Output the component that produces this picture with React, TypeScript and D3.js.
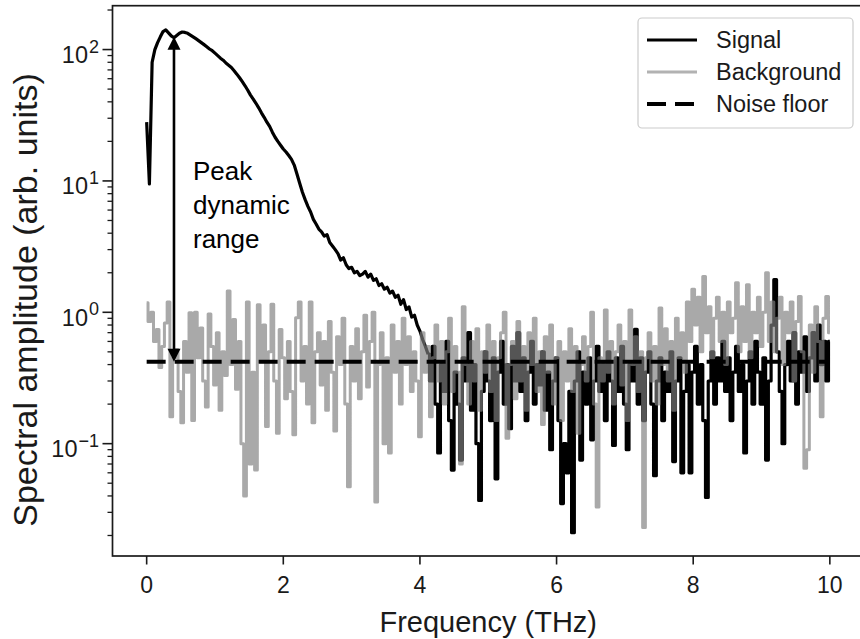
import React from "react";
import * as d3 from "d3";

// Uniformly sampled spectrum: frequency = FREQ_START + i * FREQ_STEP (THz)
const FREQ_START = 0;
const FREQ_STEP = 0.04;
// sample index where the signal sinks into the noise
const SIGNAL_NOISE_START = 103;

const SIGNAL = [
  28, 9.5, 80, 100, 113, 125, 137, 141, 134, 127,
  123, 128, 133, 136, 135, 133, 129, 125, 121, 117,
  113, 109, 105, 101, 98, 94, 90, 86, 83, 79,
  76, 73, 69, 65, 61, 57, 53, 49, 45, 42,
  39, 36, 33, 30.5, 28, 26, 23.5, 21.5, 20, 18.7,
  17.5, 16.6, 15.6, 14.6, 13.2, 11.3, 9.6, 8.2, 7.2, 6.4,
  5.8, 5.1, 4.7, 4.3, 4.1, 3.8, 3.9, 3.4, 3.2, 3.0,
  2.8, 2.5, 2.6, 2.3, 2.15, 2.2, 2.0, 2.05, 1.9, 1.95,
  2.05, 1.85, 1.95, 1.75, 1.8, 1.6, 1.65, 1.5, 1.55, 1.4,
  1.45, 1.3, 1.35, 1.15, 1.25, 1.05, 1.1, 0.92, 0.95, 0.8,
  0.72, 0.62, 0.55, 0.48, 0.3, 0.55, 0.2, 0.085, 0.4, 0.25,
  0.6, 0.15, 0.063, 0.35, 0.2, 0.075, 0.45, 0.3, 0.7, 0.18,
  0.4, 0.1, 0.037, 0.25, 0.5, 0.3, 0.15, 0.45, 0.054, 0.35,
  0.6, 0.2, 0.4, 0.13, 0.55, 0.3, 0.7, 0.25, 0.45, 0.15,
  0.35, 0.6, 0.2, 0.4, 0.28, 0.5, 0.18, 0.35, 0.09, 0.3,
  0.45, 0.15, 0.035, 0.1, 0.06, 0.25, 0.021, 0.3, 0.5, 0.075,
  0.35, 0.2, 0.45, 0.107, 0.3, 0.55, 0.25, 0.4, 0.15, 0.5,
  0.3, 0.097, 0.45, 0.25, 0.55, 0.2, 0.09, 0.4, 0.3, 0.74,
  0.2, 0.45, 0.15, 0.35, 0.5, 0.2, 0.057, 0.3, 0.45, 0.15,
  0.35, 0.25, 0.5, 0.073, 0.3, 0.45, 0.06, 0.25, 0.4, 0.06,
  0.35, 0.55, 0.2, 0.4, 0.15, 0.039, 0.3, 0.5, 0.2, 0.45,
  0.3, 0.6, 0.25, 0.45, 0.15, 0.35, 0.55, 0.25, 0.4, 0.085,
  0.3, 0.5, 0.2, 0.6, 0.35, 0.2, 0.45, 0.075, 0.3, 0.8,
  1.77, 0.5, 0.25, 0.1, 0.4, 0.6, 0.3, 0.7, 0.2, 0.5,
  0.35, 0.65, 0.25, 0.45, 0.7, 0.3, 0.8, 0.4, 0.6, 0.3,
  0.6,
];

const BACKGROUND = [
  1.18, 0.85, 1.0, 0.6, 0.74, 0.38, 0.55, 0.83, 1.2, 0.16,
  0.45, 0.52, 0.25, 0.144, 0.6, 0.35, 0.99, 0.15, 1.0, 0.45,
  0.76, 0.3, 0.19, 0.97, 0.55, 0.28, 0.7, 0.18, 0.5, 0.33,
  1.45, 0.4, 0.88, 0.26, 0.6, 0.1, 0.04, 1.2, 0.07, 0.35,
  0.063, 1.14, 0.42, 0.8, 0.135, 0.5, 1.15, 0.3, 0.12, 0.74,
  0.45, 0.22, 0.6, 0.25, 0.117, 0.91, 1.2, 0.3, 0.55, 0.2,
  1.2, 0.144, 0.5, 0.7, 0.28, 0.6, 0.18, 0.85, 0.35, 0.125,
  0.65, 0.4, 0.9, 0.2, 0.047, 0.55, 0.3, 0.75, 0.22, 0.5,
  0.95, 0.27, 0.6, 1.0, 0.036, 0.4, 0.7, 0.1, 0.45, 0.085,
  0.8, 0.35, 0.6, 0.2, 0.9, 0.4, 0.65, 0.25, 0.5, 0.3,
  0.113, 0.7, 0.35, 0.55, 0.16, 0.45, 0.8, 0.3, 0.6, 0.2,
  0.5, 0.9, 0.25, 0.55, 0.35, 0.07, 1.1, 0.4, 0.2, 0.6,
  0.3, 0.75, 0.18, 0.5, 0.35, 0.8, 0.25, 0.6, 0.15, 0.45,
  0.7, 1.0, 0.11, 0.4, 0.6, 0.22, 0.85, 0.3, 0.55, 0.18,
  0.7, 0.4, 0.9, 0.25, 0.5, 0.14, 0.65, 0.35, 0.8, 0.2,
  0.45, 0.6, 0.15, 0.5, 0.3, 0.75, 0.25, 0.55, 0.12, 0.4,
  0.65, 0.3, 0.55, 1.0, 0.2, 0.033, 0.45, 0.3, 1.04, 0.35,
  0.6, 0.2, 0.5, 0.8, 0.28, 0.6, 0.15, 1.04, 0.4, 0.65,
  0.25, 0.5, 0.023, 0.45, 0.7, 0.3, 0.55, 0.2, 1.08, 0.4,
  0.75, 0.3, 0.6, 0.18, 0.9, 0.45, 0.7, 0.35, 1.2, 0.6,
  1.5, 0.8, 1.3, 0.5, 1.87, 0.7, 1.1, 0.45, 0.9, 1.3,
  0.6, 1.0, 0.4, 1.2, 0.7, 0.9, 1.68, 0.5, 1.1, 0.6,
  1.62, 0.45, 1.0, 0.7, 1.3, 0.55, 1.0, 2.0, 0.6, 1.2,
  0.5, 0.9, 1.3, 0.4, 1.0, 0.7, 1.2, 0.3, 0.85, 1.32,
  0.5, 0.065, 0.09, 0.8, 0.35, 1.1, 0.6, 0.16, 0.9, 1.32,
  0.7,
];

const NOISE_FLOOR = 0.42;
const NOISE_RANGE = [0, 10];
const X_TICKS = [0, 2, 4, 6, 8, 10];
const Y_DECADES = [-1, 0, 1, 2];
const LEGEND_LABELS = ["Signal", "Background", "Noise floor"];
const ANNOTATION_LINES = ["Peak", "dynamic", "range"];
const ARROW_FREQ = 0.4;
const ARROW_TOP = 125;
const X_LABEL = "Frequency (THz)";
const Y_LABEL = "Spectral amplitude (arb. units)";

const FONT = "'Liberation Sans', Arial, Helvetica, sans-serif";

type Pt = [number, number];

export default function App() {
  const W = 860;
  const H = 639;
  const left = 112.5;
  const right = 864;
  const top = 5.7;
  const bottom = 556;

  const x = d3.scaleLinear().domain([-0.5, 10.5]).range([left, right]);
  const y = d3.scaleLog().domain([0.01396, 215.7]).range([bottom, top]);

  const toPts = (arr: number[]): Pt[] =>
    arr.map((v, i) => [FREQ_START + i * FREQ_STEP, v] as Pt);

  const smoothLine = d3
    .line<Pt>()
    .x((d) => x(d[0]))
    .y((d) => y(d[1]));
  const noisyLine = d3
    .line<Pt>()
    .x((d) => x(d[0]))
    .y((d) => y(d[1]))
    .curve(d3.curveStep);

  const sigPts = toPts(SIGNAL);
  const sigSmooth = sigPts.slice(0, SIGNAL_NOISE_START + 1);
  const sigNoisy = sigPts.slice(SIGNAL_NOISE_START);
  const bgPts = toPts(BACKGROUND);

  const minorTicks: number[] = [];
  for (let e = -2; e <= 2; e++) {
    for (let m = 2; m <= 9; m++) {
      const v = m * Math.pow(10, e);
      const py = y(v);
      if (py <= bottom && py >= top) minorTicks.push(v);
    }
  }

  const arrowX = x(ARROW_FREQ);
  const arrowTopY = y(ARROW_TOP);
  const arrowBotY = y(NOISE_FLOOR);
  const headL = 13;
  const headW = 6.5;

  const legX = 638;
  const legY = 18;
  const legRowH = 32;
  const ink = "#1a1a1a";

  return (
    <svg
      width={W}
      height={H}
      style={{ position: "absolute", left: 0, top: 0, background: "#fff" }}
      fontFamily={FONT}
    >
      <rect x={0} y={0} width={W} height={H} fill="#fff" />
      <defs>
        <clipPath id="plotclip">
          <rect x={left} y={top} width={right - left} height={bottom - top} />
        </clipPath>
      </defs>

      <g clipPath="url(#plotclip)">
        <path
          d={(smoothLine(sigSmooth) || "") + (noisyLine(sigNoisy) || "")}
          fill="none"
          stroke="#000"
          strokeWidth={3.2}
          strokeLinejoin="round"
        />
        <path
          d={noisyLine(bgPts) || ""}
          fill="none"
          stroke="#7f7f7f"
          strokeOpacity={0.67}
          strokeWidth={3}
          strokeLinejoin="round"
        />
        <line
          x1={x(NOISE_RANGE[0])}
          x2={x(NOISE_RANGE[1])}
          y1={y(NOISE_FLOOR)}
          y2={y(NOISE_FLOOR)}
          stroke="#000"
          strokeWidth={4}
          strokeDasharray="19 9"
        />
        {/* double-headed arrow */}
        <line
          x1={arrowX}
          x2={arrowX}
          y1={arrowTopY + headL - 1}
          y2={arrowBotY - headL + 1}
          stroke="#000"
          strokeWidth={2.6}
        />
        <path
          d={`M${arrowX},${arrowTopY} L${arrowX - headW},${arrowTopY + headL} L${arrowX + headW},${arrowTopY + headL} Z`}
          fill="#000"
        />
        <path
          d={`M${arrowX},${arrowBotY} L${arrowX - headW},${arrowBotY - headL} L${arrowX + headW},${arrowBotY - headL} Z`}
          fill="#000"
        />
      </g>

      {/* annotation */}
      {ANNOTATION_LINES.map((t, i) => (
        <text key={t} x={193} y={180 + i * 34} fontSize={26} fill="#000">
          {t}
        </text>
      ))}

      {/* axes frame */}
      <rect
        x={left}
        y={top}
        width={right - left}
        height={bottom - top}
        fill="none"
        stroke={ink}
        strokeWidth={1.7}
      />

      {/* x ticks */}
      {X_TICKS.map((t) => (
        <g key={t}>
          <line x1={x(t)} x2={x(t)} y1={bottom} y2={bottom + 8.5} stroke={ink} strokeWidth={1.6} />
          <text x={x(t)} y={593} textAnchor="middle" fontSize={23} fill={ink}>
            {t}
          </text>
        </g>
      ))}

      {/* y ticks */}
      {Y_DECADES.map((e) => {
        const py = y(Math.pow(10, e));
        return (
          <g key={e}>
            <line x1={left - 10} x2={left} y1={py} y2={py} stroke={ink} strokeWidth={1.6} />
            <text x={99} y={py + 13.5} textAnchor="end" fontSize={23.5} fill={ink}>
              <tspan>10</tspan>
              <tspan fontSize={18} dy={-10.5} dx={1}>
                {e < 0 ? "\u2212" + Math.abs(e) : String(e)}
              </tspan>
            </text>
          </g>
        );
      })}
      {minorTicks.map((v) => (
        <line key={v} x1={left - 5} x2={left} y1={y(v)} y2={y(v)} stroke={ink} strokeWidth={1.3} />
      ))}

      {/* axis labels */}
      <text x={(left + right) / 2} y={632} textAnchor="middle" fontSize={29} fill={ink}>
        {X_LABEL}
      </text>
      <text
        transform={`translate(37,300) rotate(-90)`}
        textAnchor="middle"
        fontSize={34}
        fill={ink}
      >
        {Y_LABEL}
      </text>

      {/* legend */}
      <rect
        x={legX}
        y={legY}
        width={215}
        height={110}
        rx={4}
        fill="#fff"
        fillOpacity={0.8}
        stroke="#cccccc"
        strokeWidth={1.2}
      />
      {LEGEND_LABELS.map((lab, i) => {
        const ly = legY + 22 + i * legRowH;
        return (
          <g key={lab}>
            {i === 0 && <line x1={647} x2={697} y1={ly} y2={ly} stroke="#000" strokeWidth={3} />}
            {i === 1 && (
              <line x1={647} x2={697} y1={ly} y2={ly} stroke="#7f7f7f" strokeOpacity={0.6} strokeWidth={3} />
            )}
            {i === 2 && (
              <line x1={647} x2={697} y1={ly} y2={ly} stroke="#000" strokeWidth={4} strokeDasharray="19 9" />
            )}
            <text x={716} y={ly + 8} fontSize={23.5} fill={ink}>
              {lab}
            </text>
          </g>
        );
      })}
    </svg>
  );
}
